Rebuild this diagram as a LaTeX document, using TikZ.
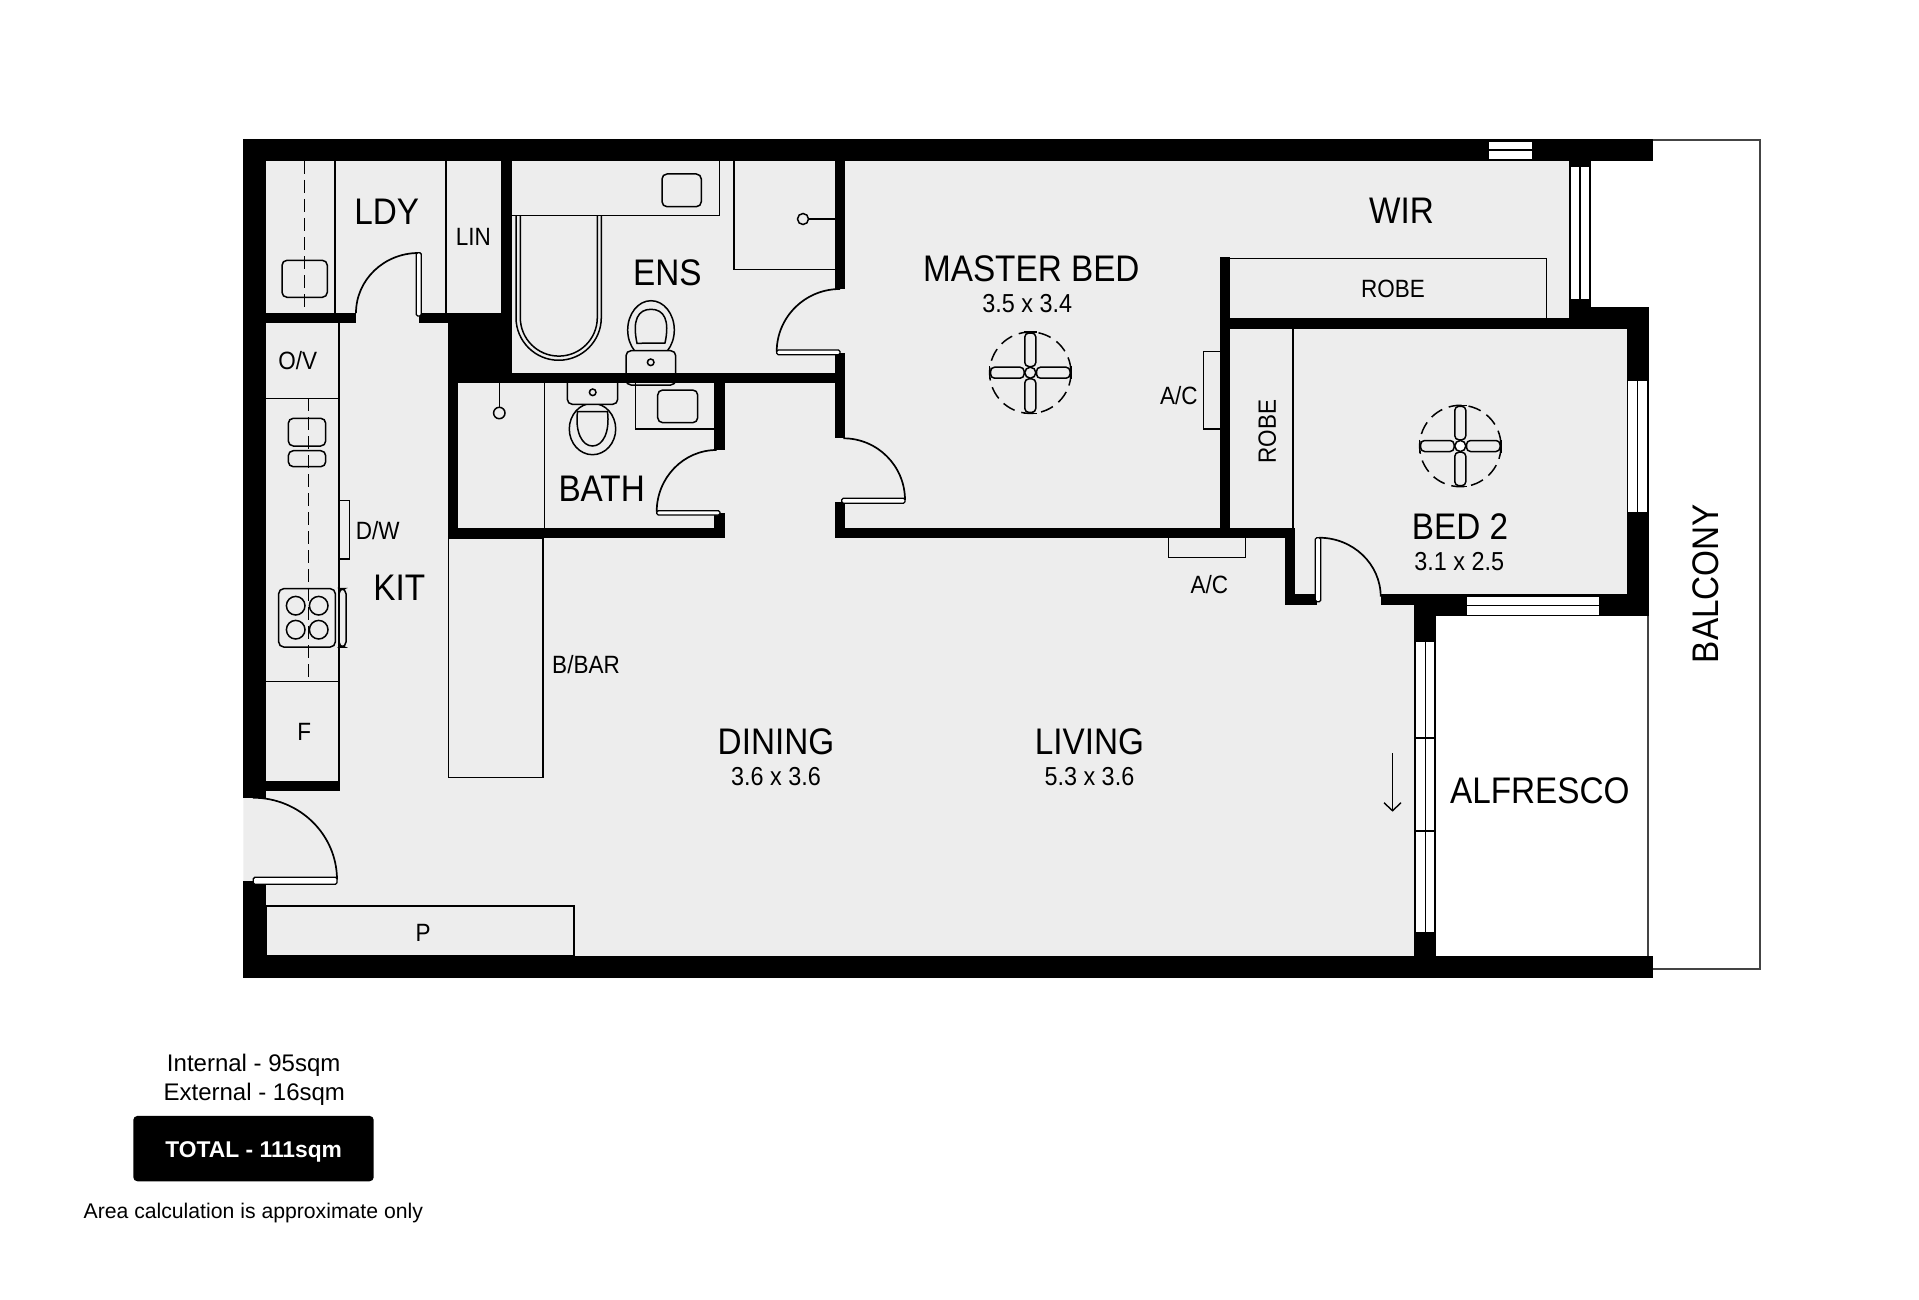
\documentclass[tikz,border=0pt]{standalone}
\usepackage{fontspec}
\setmainfont[FakeStretch=0.9]{Liberation Sans}
\newfontfamily\plainfont{Liberation Sans}
\usetikzlibrary{arrows.meta}
\definecolor{floorgrey}{HTML}{EDEDED}
\definecolor{edgegrey}{HTML}{444444}
\tikzset{
  wall/.style={fill=black},
  fitting/.style={draw=black,line width=1.5pt},
  bowl/.style={draw=black,line width=1.5pt,fill=floorgrey},
  basin/.style={draw=black,line width=1.5pt,rounded corners=5pt},
  runline/.style={draw=black,line width=1.5pt,dash pattern=on 13pt off 6pt},
  pane/.style={draw=black,line width=1.2pt,fill=white},
  leaf/.style={draw=black,line width=1.3pt,fill=white,rounded corners=1.5pt},
  swing/.style={draw=black,line width=1.7pt},
  fanring/.style={draw=black,line width=1.5pt,dash pattern=on 13pt off 7pt},
  fanblade/.style={draw=black,line width=1.5pt,fill=floorgrey,rounded corners=4pt},
  roomlabel/.style={inner sep=0pt,yshift=-1pt,font=\fontsize{37}{39}\selectfont},
  dimlabel/.style={inner sep=0pt,font=\fontsize{26}{28}\selectfont},
  smalllabel/.style={inner sep=0pt,font=\fontsize{25}{27}\selectfont},
  arealabel/.style={inner sep=0pt,font=\plainfont\fontsize{24}{26}\selectfont}
}
\begin{document}
\begin{tikzpicture}[x=1pt,y=-1pt]
  \useasboundingbox (0,0) rectangle (1919,1300);
  % floor
  \path[fill=floorgrey] (243.3,139)--(1590,139)--(1590,329)--(1648,329)--(1648,605)--(1436,605)--(1436,978)--(243.3,978)--cycle;

  % laundry
  \draw[fitting] (335,161)--(335,313);
  \draw[fitting] (446,161)--(446,313);
  \draw[basin] (282,260.3) rectangle (327.3,297.3);
  \draw[runline] (304.3,161)--(304.3,313);
  % kitchen
  \draw[fitting] (339,323)--(339,781);
  \draw[fitting] (266,398.3)--(339,398.3);
  \draw[fitting] (266,681.3)--(339,681.3);
  \draw[basin] (288.3,418.3) rectangle (325.7,446);
  \draw[basin] (288.3,450.7) rectangle (325.7,466.7);
  \draw[fitting] (339,500.7) rectangle (349.7,559);
  \draw[basin] (339,588.7) rectangle (346,647);
  \draw[basin] (278.7,588.7) rectangle (335.3,647);
  \draw[fitting] (295.7,605.7) circle (9.3);
  \draw[fitting] (318.7,605.7) circle (9.3);
  \draw[fitting] (295.7,629.7) circle (9.3);
  \draw[fitting] (318.7,629.7) circle (9.3);
  \draw[runline] (308.3,398.3)--(308.3,678.3);
  \draw[fitting] (448.7,538.3) rectangle (543,777.7);
  \draw[fitting] (266,906) rectangle (574,956);
  % ensuite
  \draw[fitting] (512.3,215.7)--(719.3,215.7)--(719.3,161);
  \draw[basin] (662,174) rectangle (701.3,206.7);
  \draw[fitting] (516,215.7)--(516,317.6) arc[start angle=180,end angle=0,radius=42.65]--(601.3,215.7);
  \draw[fitting] (520.3,215.7)--(520.3,317.6) arc[start angle=180,end angle=0,radius=38.5]--(597.3,215.7);
  \draw[fitting] (734,161)--(734,269.3)--(834.7,269.3);
  \draw[fitting] (808.5,219)--(834.7,219);
  \draw[fitting] (803,219) circle (5.5);
  \draw[bowl] (651,330) ellipse (23.3 and 29.3);
  \draw[fitting] (637,343.3) .. controls (632,320) and (638,309.3) .. (651,309.3) .. controls (664,309.3) and (670,320) .. (665,343) -- cycle;
  \draw[bowl,rounded corners=5pt] (626,350.7) rectangle (675.7,385);
  \draw[fitting] (650.7,362.3) circle (3.3);
  % bathroom
  \draw[fitting] (544.7,383)--(544.7,527.5);
  \draw[fitting] (499.3,383)--(499.3,407.3);
  \draw[fitting] (499.3,413) circle (5.7);
  \draw[bowl] (592.5,429) ellipse (23.2 and 25.7);
  \draw[fitting] (577.5,411.7)--(607.5,411.7) .. controls (610,432) and (603,446) .. (592.5,446) .. controls (582,446) and (575,432) .. (577.5,411.7) -- cycle;
  \draw[bowl,rounded corners=5pt] (567.3,375) rectangle (617.7,404.3);
  \draw[fitting] (592.7,392.3) circle (3.3);
  \draw[fitting] (635.7,383)--(635.7,429)--(714,429);
  \draw[basin] (657.7,390) rectangle (697.7,422.7);
  % robes and a/c
  \draw[fitting] (1229.8,258.3)--(1546.3,258.3)--(1546.3,318);
  \draw[fitting] (1293,329)--(1293,528);
  \draw[fitting] (1219.6,351.7)--(1203.7,351.7)--(1203.7,429)--(1219.6,429);
  \draw[fitting] (1168.6,538)--(1168.6,557.3)--(1245.3,557.3)--(1245.3,538);

  % walls
  \path[wall] (243.3,139) rectangle (1652.7,161.3);
  \path[wall] (243.3,139) rectangle (266,797.7);
  \path[wall] (243.3,880.7) rectangle (266,978);
  \path[wall] (243.3,956) rectangle (1652.7,978);
  \path[wall] (266,312.7) rectangle (356,323.3);
  \path[wall] (419.3,312.7) rectangle (512.3,323.3);
  \path[wall] (501.3,161) rectangle (512.3,372.7);
  \path[wall] (447.7,312.7) rectangle (512.3,383.3);
  \path[wall] (447.7,372.7) rectangle (845.3,383.3);
  \path[wall] (447.7,372.7) rectangle (458.3,538.3);
  \path[wall] (447.7,527.5) rectangle (724.7,538.3);
  \path[wall] (714,372.7) rectangle (724.7,450);
  \path[wall] (714,513.3) rectangle (724.7,538.3);
  \path[wall] (834.7,161) rectangle (845.3,289);
  \path[wall] (834.7,352.7) rectangle (845.3,438.3);
  \path[wall] (834.7,501.7) rectangle (845.3,538.3);
  \path[wall] (834.7,527.5) rectangle (1295.3,538.3);
  \path[wall] (1219.6,257.3) rectangle (1229.8,538);
  \path[wall] (1219.6,318) rectangle (1590.7,329);
  \path[wall] (1569,161) rectangle (1590.7,329);
  \path[wall] (1590.7,307) rectangle (1648.7,329);
  \path[wall] (1626.7,307) rectangle (1648.7,616);
  \path[wall] (1284.7,527.7) rectangle (1295.3,605.3);
  \path[wall] (1284.7,594.3) rectangle (1316.7,605.3);
  \path[wall] (1380.7,594.3) rectangle (1436,605.3);
  \path[wall] (1414.3,594.3) rectangle (1648.7,616);
  \path[wall] (1414.3,594.3) rectangle (1436,978);
  \path[wall] (266,780.7) rectangle (340.3,791.3);

  % windows
  \draw[pane] (1488.3,141) rectangle (1533,150);
  \draw[pane] (1488.3,150) rectangle (1533,159.3);
  \draw[pane] (1570,166.7) rectangle (1580,299.3);
  \draw[pane] (1580,166.7) rectangle (1590,299.3);
  \draw[pane] (1627.7,380) rectangle (1637.7,512.7);
  \draw[pane] (1637.7,380) rectangle (1647.7,512.7);
  \draw[pane] (1466.7,596) rectangle (1599.3,605.7);
  \draw[pane] (1466.7,605.7) rectangle (1599.3,615.3);
  \draw[pane] (1415.7,641.3) rectangle (1425.3,932.7);
  \draw[pane] (1425.3,641.3) rectangle (1434.6,932.7);
  \draw[line width=1.2pt] (1415.7,738)--(1434.6,738);
  \draw[line width=1.2pt] (1415.7,831)--(1434.6,831);

  % doors
  \draw[swing] (356,313) arc[start angle=180,end angle=270,x radius=62.5,y radius=60];
  \draw[leaf] (416.3,252.7) rectangle (421.3,316);
  \draw[swing] (840,289) arc[start angle=270,end angle=180,x radius=63.3,y radius=62.7];
  \draw[leaf] (776.7,350) rectangle (840,354.7);
  \draw[swing] (843.3,438.3) arc[start angle=270,end angle=360,x radius=61.7,y radius=61.7];
  \draw[leaf] (841.7,498.3) rectangle (905,503.3);
  \draw[swing] (716.7,450) arc[start angle=270,end angle=180,x radius=60,y radius=61.7];
  \draw[leaf] (656.7,510.7) rectangle (720,515);
  \draw[swing] (253,797.7) arc[start angle=270,end angle=360,x radius=84,y radius=82];
  \draw[leaf] (253.3,877.3) rectangle (337,884.3);
  \draw[swing] (1319,537.7) arc[start angle=270,end angle=360,x radius=61.7,y radius=59];
  \draw[leaf] (1315.3,537.7) rectangle (1320.7,601.7);

  % alfresco and balcony edge
  \draw[edgegrey,line width=1.8pt] (1648.3,616)--(1648.3,956);
  \draw[edgegrey,line width=1.8pt] (1652.7,140)--(1760,140)--(1760,969.3)--(1652.7,969.3);

  % ceiling fans
  \draw[fanring] (1030.3,372.7) circle (40.7);
  \draw[fanblade] (1030.3-5.5,372.7-39.7) rectangle ++(11,33.5);
  \draw[fanblade] (1030.3-5.5,372.7+39.7) rectangle ++(11,-33.5);
  \draw[fanblade] (1030.3-39.7,372.7-5.5) rectangle ++(33.5,11);
  \draw[fanblade] (1030.3+39.7,372.7-5.5) rectangle ++(-33.5,11);
  \draw[fitting] (1030.3-6.5,372.7-40.7)--++(13,0);
  \draw[fitting] (1030.3-6.5,372.7+40.7)--++(13,0);
  \draw[fitting] (1030.3-40.7,372.7-6.5)--++(0,13);
  \draw[fitting] (1030.3+40.7,372.7-6.5)--++(0,13);
  \draw[fitting] (1030.3,372.7) circle (5.5);
  \draw[fanring] (1460.3,446) circle (40.7);
  \draw[fanblade] (1460.3-5.5,446-39.7) rectangle ++(11,33.5);
  \draw[fanblade] (1460.3-5.5,446+39.7) rectangle ++(11,-33.5);
  \draw[fanblade] (1460.3-39.7,446-5.5) rectangle ++(33.5,11);
  \draw[fanblade] (1460.3+39.7,446-5.5) rectangle ++(-33.5,11);
  \draw[fitting] (1460.3-6.5,446-40.7)--++(13,0);
  \draw[fitting] (1460.3-6.5,446+40.7)--++(13,0);
  \draw[fitting] (1460.3-40.7,446-6.5)--++(0,13);
  \draw[fitting] (1460.3+40.7,446-6.5)--++(0,13);
  \draw[fitting,fill=white] (1460.3,446) circle (5.5);

  % sliding door arrow
  \coordinate (slidetop) at (1392.5,753.3);
  \coordinate (slideend) at (1392.5,811.7);
  \draw[line width=1.4pt,-{Straight Barb[length=8pt,width=17pt]}] (slidetop)--(slideend);

  % labels
  \node[roomlabel] (ldy) at (386.7,211) {LDY};
  \node[smalllabel] (lin) at (473.3,237.3) {LIN};
  \node[smalllabel] (ov) at (297.7,360.7) {O/V};
  \node[smalllabel] (dw) at (377.7,531) {D/W};
  \node[roomlabel] (kit) at (399.3,586.7) {KIT};
  \node[smalllabel] (fridge) at (304.3,731.7) {F};
  \node[smalllabel] (pantry) at (423,933) {P};
  \node[smalllabel] (bbar) at (586,665) {B/BAR};
  \node[roomlabel] (ens) at (667.3,271.7) {ENS};
  \node[roomlabel] (bath) at (601.7,487.7) {BATH};
  \node[roomlabel] (master) at (1031.3,267.3) {MASTER BED};
  \node[dimlabel] (masterdim) at (1027.3,303.3) {3.5 x 3.4};
  \node[roomlabel] (wir) at (1401.5,209.3) {WIR};
  \node[smalllabel] (robetop) at (1393,288.9) {ROBE};
  \node[smalllabel,rotate=90] (robeside) at (1267.3,431.7) {ROBE};
  \node[smalllabel] (acbed) at (1178.8,396) {A/C};
  \node[smalllabel] (acliving) at (1209.3,585) {A/C};
  \node[roomlabel] (bedtwo) at (1460,525.7) {BED 2};
  \node[dimlabel] (bedtwodim) at (1459.3,561.7) {3.1 x 2.5};
  \node[roomlabel] (dining) at (776,740.5) {DINING};
  \node[dimlabel] (diningdim) at (776,777) {3.6 x 3.6};
  \node[roomlabel] (living) at (1089.4,740.5) {LIVING};
  \node[dimlabel] (livingdim) at (1089.4,777) {5.3 x 3.6};
  \node[roomlabel] (alfresco) at (1539.8,790) {ALFRESCO};
  \node[roomlabel,rotate=90,yshift=1pt] (balcony) at (1707,582.6) {BALCONY};

  % area box
  \node[arealabel] (internal) at (253.7,1064.8) {Internal - 95sqm};
  \node[arealabel] (external) at (254.3,1094.2) {External - 16sqm};
  \node[fill=black,rounded corners=4pt,minimum width=240.4pt,minimum height=65.3pt,inner sep=0pt] (total) at (253.5,1148.6) {};
  \node[inner sep=0pt,text=white,font=\plainfont\bfseries\fontsize{22.8}{25}\selectfont] (totaltext) at (253.7,1151.5) {TOTAL - 111sqm};
  \node[inner sep=0pt,font=\plainfont\fontsize{21.2}{23}\selectfont] (approx) at (253.3,1213.5) {Area calculation is approximate only};
\end{tikzpicture}
\end{document}
